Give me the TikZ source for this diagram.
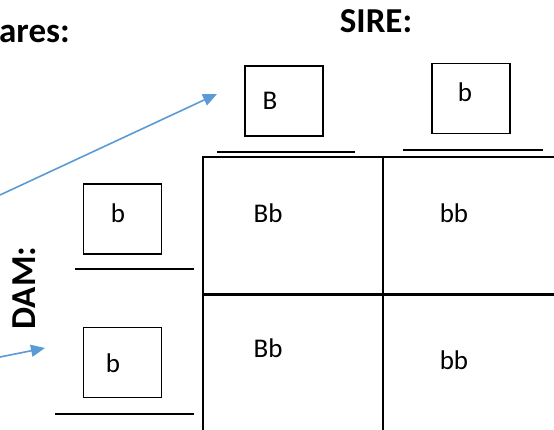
\documentclass[tikz,border=0pt]{standalone}
\usepackage{fontspec}
\setmainfont{Carlito}
\usetikzlibrary{arrows.meta}
\definecolor{arrowblue}{RGB}{91,155,213}
\tikzset{
  every picture/.append style={x=1pt, y=-1pt},
  allele/.style={draw, line width=1.6pt, minimum width=78pt, minimum height=70pt, inner sep=0pt},
  letter/.style={inner sep=0pt, font=\fontsize{27}{30}\selectfont},
  heading/.style={inner sep=0pt, font=\fontsize{35}{38}\selectfont\bfseries},
  pointer/.style={arrowblue, line width=1.6pt, -{Triangle[length=14pt, width=12pt]}},
}

\begin{document}
\begin{tikzpicture}
  \useasboundingbox (0,0) rectangle (554,430);
  % headings
  \node[heading, anchor=base west] (title) at (-1,43) {ares:};
  \node[heading, anchor=base] (sire) at (376,33) {SIRE:};
  \node[heading, rotate=90] (dam) at (24,288) {DAM:};
  % sire alleles
  \node[allele] (sireA) at (284,101) {};
  \node[letter] (sireAtxt) at (270,101) {B};
  \node[allele] (sireB) at (471,98.5) {};
  \node[letter] (sireBtxt) at (465,92) {b};
  \draw[line width=1.6pt] (217,152) -- (355,152);
  \draw[line width=1.6pt] (403,150) -- (543,150);
  % dam alleles
  \node[allele] (damA) at (122.5,219) {};
  \node[letter] (damAtxt) at (118,213) {b};
  \node[allele] (damB) at (122.5,362.5) {};
  \node[letter] (damBtxt) at (113,363) {b};
  \draw[line width=1.6pt] (75,269) -- (194,269);
  \draw[line width=1.6pt] (55,414) -- (194,414);
  % punnett grid
  \draw[line cap=rect, line width=1.8pt] (203,430) -- (203,157) -- (554,157);
  \draw[line width=1.8pt] (383,157) -- (383,430);
  \draw[line width=3pt] (203,295) -- (554,295);
  \node[letter] (c11) at (268,213) {Bb};
  \node[letter] (c12) at (454,213) {bb};
  \node[letter] (c21) at (268,348) {Bb};
  \node[letter] (c22) at (454,360) {bb};
  % arrows
  \coordinate (p1) at (0,195);
  \coordinate (q1) at (217,94);
  \coordinate (p2) at (0,357);
  \coordinate (q2) at (45,348);
  \draw[pointer] (p1) -- (q1);
  \draw[pointer] (p2) -- (q2);
\end{tikzpicture}
\end{document}
